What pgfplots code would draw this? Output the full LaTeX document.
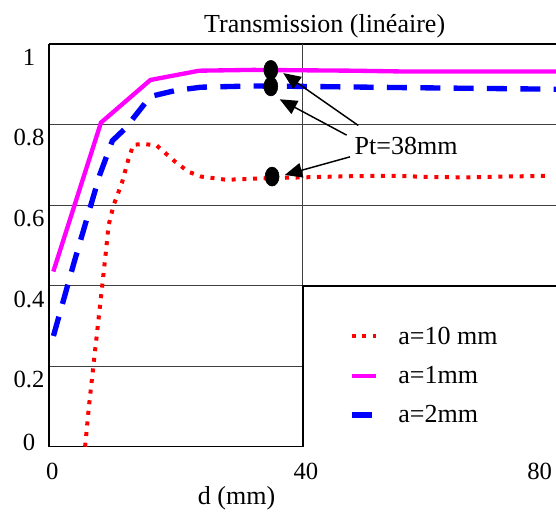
\documentclass[border=0pt]{standalone}
\usepackage{pgfplots}
\pgfplotsset{compat=1.18}
\usepackage{fontspec}
\setmainfont{Liberation Serif}
\usetikzlibrary{arrows.meta}
\definecolor{mymag}{RGB}{255,0,255}
\definecolor{myblue}{RGB}{0,0,255}
\definecolor{myred}{RGB}{255,0,0}
\begin{document}
\begin{tikzpicture}
\begin{axis}[
  scale only axis,
  width=380.25pt, height=301.9pt,
  xmin=0, xmax=80, ymin=0, ymax=1,
  axis lines=left,
  axis line style={-, line width=1.2pt, black},
  clip mode=individual,
  major tick length=0pt,
  xtick={0,40,80},
  xticklabels={0,40,\llap{80\hspace{5.5pt}}},
  ytick={0,0.2,0.4,0.6,0.8,1},
  yticklabels={\raisebox{13pt}[\height][\depth]{0},0.2,0.4,0.6,0.8,1},
  /pgf/number format/assume math mode=true,
  ymajorgrids,
  grid style={line width=0.8pt, black!75},
  font=\fontsize{19.5}{23}\selectfont,
  tick label style={font=\fontsize{18.5}{22}\selectfont},
  yticklabel style={anchor=center, xshift=-15pt, yshift=-10pt},
  xticklabel style={xshift=2.5pt, yshift=-8.5pt},
  legend style={draw=none, fill=none, inner sep=0pt, at={(axis cs:47.3,0.305)}, anchor=north west,
    font=\fontsize{19.5}{23}\selectfont, row sep=11pt,
    /tikz/every odd column/.style={column sep=13pt}},
  legend cell align=left,
  legend image code/.code={\draw[#1] (0pt,0pt) -- (18pt,0pt);},
]
\coordinate (O) at (rel axis cs:0,0);
% top frame and vertical grid line
\draw[line width=1pt, black] (rel axis cs:0,1) -- (rel axis cs:1,1);
\draw[line width=0.8pt, black!75] (axis cs:40,0) -- (axis cs:40,1);
% legend box
\fill[white] (axis cs:40,0) rectangle (axis cs:80,0.4);
\draw[line width=1.5pt, black] (axis cs:80,0.4) -- (axis cs:40,0.4) -- (axis cs:40,0);

\addplot[myred, line width=3pt, dash pattern=on 3pt off 5pt] coordinates {
(5.7,0) (6.3,0.1) (7.0,0.2) (7.7,0.3) (8.4,0.4) (9.0,0.488) (9.4,0.55) (10.2,0.6)
(11.5,0.655) (12.5,0.712) (13.3,0.75) (15,0.752) (17,0.748) (19.9,0.708) (22,0.683)
(24,0.671) (28,0.663) (34.3,0.667) (40,0.669) (48,0.672) (54,0.673) (60,0.67)
(66,0.669) (72,0.671) (78.9,0.673)};
\addlegendentry{a=10 mm}
\addplot[mymag, line width=3.25pt] coordinates {
(0.68,0.435) (8.2,0.805) (16,0.911) (23.7,0.934) (32.2,0.936) (40,0.935) (48,0.934)
(56,0.932) (64,0.932) (72,0.932) (80,0.932)};
\addlegendentry{a=1mm}
\addplot[myblue, line width=4pt, dash pattern=on 15pt off 10pt] coordinates {
(0.7,0.275) (4,0.46) (8,0.675) (10,0.76) (12,0.79) (16,0.87) (20,0.885) (24,0.893)
(32,0.896) (40,0.895) (56,0.892) (80,0.888)};
\addlegendentry{a=2mm}

\addplot[forget plot, only marks, mark=*, mark size=5.25pt,
  mark options={yscale=1.36, fill=black, draw=black}] coordinates {
(35,0.936) (35,0.895) (35.2,0.671)};

% annotation
\draw[line width=1.1pt, -{Triangle[length=13pt,width=11pt]}] (axis cs:48.8,0.798) -- (axis cs:36.97,0.928);
\draw[line width=1.1pt, -{Triangle[length=13pt,width=11pt]}] (axis cs:46.96,0.774) -- (axis cs:36.4,0.863);
\draw[line width=1.1pt, -{Triangle[length=13pt,width=11pt]}] (axis cs:47.5,0.72) -- (axis cs:37.2,0.675);
\node[anchor=base west, inner sep=0pt] at (axis cs:48.2,0.725) {Pt=38mm};
\node[anchor=base, inner sep=0pt] at (axis cs:43.5,1.03) {Transmission (linéaire)};
\node[anchor=base, inner sep=0pt] at (axis cs:29.6,-0.144) {d (mm)};
\end{axis}
\pgfresetboundingbox
\path[use as bounding box] ([shift={(-36.75pt,-50.5pt)}]O) rectangle ([shift={(380.25pt,335pt)}]O);
\end{tikzpicture}
\end{document}
